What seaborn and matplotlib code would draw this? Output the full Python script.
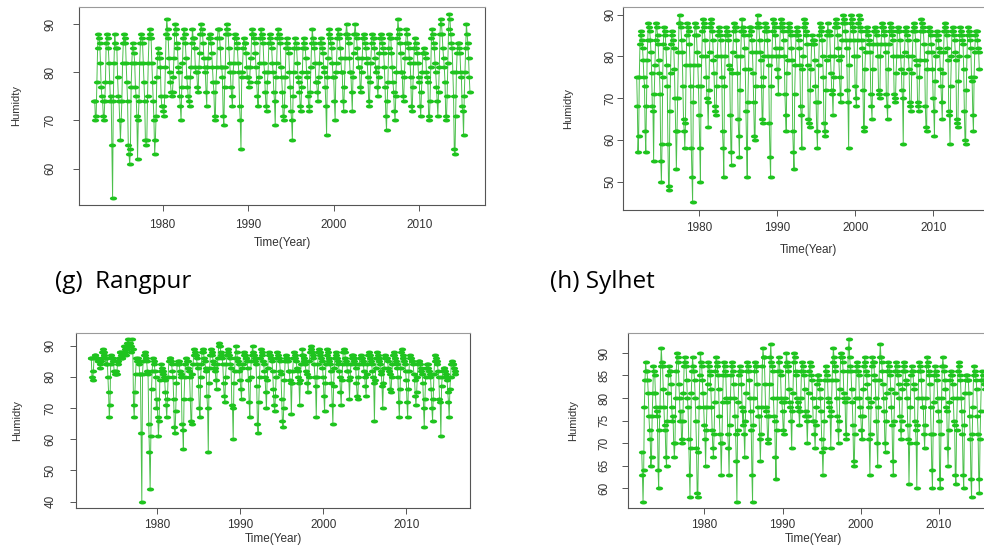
import numpy as np
import pandas as pd
import matplotlib
matplotlib.use("Agg")
import matplotlib.pyplot as plt
from matplotlib.path import Path
import seaborn as sns

years = list(range(1972, 2016))
x_ticks = [1980, 1990, 2000, 2010]

# monthly humidity, one row per year (Jan..Dec)
rangpur = [
    [74,74,70,71,78,85,88,87,86,82,77,75],[74,71,70,74,78,86,88,87,85,82,78,74],
    [75,65,54,74,82,88,86,85,85,79,75,74],[70,66,70,74,82,86,88,86,87,82,78,74],
    [65,63,61,64,77,82,86,85,84,82,77,75],[71,62,70,74,82,86,88,87,86,82,78,74],
    [66,65,66,75,82,87,89,88,87,82,78,74],[70,63,66,71,79,83,85,84,83,81,75,73],
    [73,72,71,75,81,88,91,89,87,83,80,78],[76,75,76,79,83,88,90,89,86,85,81,80],
    [75,73,70,77,82,87,89,88,86,83,79,77],[75,74,73,79,81,86,89,87,87,85,81,80],
    [80,77,76,81,84,88,90,89,88,86,83,81],[80,76,73,81,83,87,88,87,86,84,81,78],
    [76,71,70,78,81,87,89,89,87,85,81,81],[79,71,69,77,81,88,90,89,88,85,82,80],
    [77,75,73,80,82,87,88,87,86,85,82,80],[73,70,64,79,80,85,87,86,86,84,81,79],
    [79,77,78,81,83,88,89,88,87,86,84,81],[78,75,73,79,82,87,89,88,87,86,82,80],
    [76,73,72,78,80,86,88,87,86,85,82,80],[76,74,69,79,82,87,89,88,87,86,81,79],
    [76,71,70,73,79,85,87,86,85,84,80,77],[72,70,66,75,80,85,87,86,85,82,79,78],
    [76,73,72,77,80,85,87,86,85,83,80,79],[75,73,72,76,81,86,89,87,86,85,82,78],
    [78,76,74,79,82,86,87,86,85,84,81,80],[77,73,67,79,83,88,89,87,86,85,82,79],
    [79,74,70,80,82,87,89,88,87,85,83,80],[80,74,72,77,83,88,90,88,87,86,83,80],
    [80,76,72,79,84,88,90,88,87,85,83,81],[81,77,76,80,83,87,88,87,86,85,83,82],
    [79,74,73,78,82,86,88,87,87,85,83,80],[81,77,75,79,84,87,88,87,86,85,84,81],
    [77,71,68,74,78,85,88,87,87,84,81,78],[76,72,70,75,80,87,91,89,88,86,84,80],
    [80,75,74,79,83,86,89,88,86,85,83,82],[79,73,72,77,82,85,87,86,85,84,82,79],
    [78,73,71,76,80,84,85,84,84,83,80,79],[78,71,70,74,81,87,89,88,86,85,82,80],
    [77,74,71,76,81,88,91,90,88,85,83,81],[78,71,70,75,82,89,92,91,88,86,85,80],
    [75,64,63,71,80,84,86,86,85,84,80,79],[73,72,67,75,80,85,90,88,86,83,79,76],
]
sylhet = [
    [75,68,57,61,75,83,86,85,84,82,79,75],[73,62,57,68,79,84,88,87,86,84,81,76],
    [68,67,55,71,78,84,88,87,85,83,79,76],[71,55,50,59,75,83,87,86,85,82,78,73],
    [59,49,48,67,76,83,86,85,84,82,77,70],[62,53,62,70,81,88,90,88,87,84,81,73],
    [65,62,58,64,78,85,88,87,86,83,78,73],[58,51,45,69,78,85,88,87,85,81,78,73],
    [66,58,50,73,80,86,89,88,87,84,80,75],[70,69,63,72,81,87,89,88,86,84,79,76],
    [68,67,66,73,80,85,87,86,85,84,80,75],[62,58,51,73,80,85,87,86,85,84,78,77],
    [66,57,54,76,81,86,88,87,87,84,80,76],[65,61,56,72,80,86,89,87,86,85,82,77],
    [67,58,51,69,77,85,87,87,86,84,81,76],[69,61,60,73,81,87,90,88,87,84,81,79],
    [73,65,64,75,80,86,88,87,86,84,80,78],[64,56,51,73,80,86,89,88,87,85,82,80],
    [77,75,71,80,82,87,89,88,87,86,84,80],[71,66,62,76,79,86,88,87,86,85,82,79],
    [62,57,53,71,78,85,87,86,85,84,82,78],[68,66,58,77,80,87,89,88,86,85,83,78],
    [65,64,63,72,77,83,85,84,84,83,79,73],[69,62,58,69,78,85,88,87,86,84,80,75],
    [64,62,61,72,79,85,88,86,86,85,80,76],[72,71,66,75,80,87,89,88,87,85,82,79],
    [75,71,69,80,84,88,90,89,88,86,84,82],[72,69,58,78,84,88,90,89,87,86,84,80],
    [73,70,68,80,84,88,90,89,87,86,84,82],[72,63,62,77,81,86,87,86,85,84,83,81],
    [71,68,65,77,83,86,87,86,86,85,83,80],[72,71,70,80,83,87,88,87,86,85,83,81],
    [71,68,65,77,83,86,88,87,86,85,84,80],[71,70,69,76,80,86,87,86,86,84,80,77],
    [72,70,59,76,81,86,87,86,85,84,80,77],[69,68,67,76,80,86,88,87,86,84,79,78],
    [69,68,67,75,79,86,89,88,87,86,83,79],[68,63,62,77,81,86,87,86,85,83,81,77],
    [70,67,61,74,80,85,86,85,84,82,81,77],[73,69,65,76,81,86,88,87,86,85,82,79],
    [67,66,59,73,80,86,87,86,85,84,81,79],[65,64,63,74,80,85,87,86,85,84,83,77],
    [67,60,59,72,80,85,87,86,85,84,82,75],[74,66,62,75,81,85,86,86,84,82,81,77],
]
station_c = [
    [86,86,80,79,82,86,87,87,86,86,85,85],[85,84,83,85,86,88,89,88,87,86,84,84],
    [86,80,75,67,71,84,87,86,86,85,82,81],[81,82,81,85,84,86,88,88,87,86,86,88],
    [90,89,88,87,89,91,92,91,90,91,90,88],[92,89,71,67,75,81,86,85,86,85,84,81],
    [81,62,40,81,85,87,88,87,86,85,82,81],[65,56,44,61,76,82,86,85,84,82,80,70],
    [73,67,61,66,79,82,84,83,82,81,80,79],[75,71,67,73,80,85,86,86,85,84,82,80],
    [73,64,62,69,78,84,85,85,84,82,81,80],[65,63,57,73,80,84,86,85,85,83,82,80],
    [73,66,65,81,84,87,89,88,87,86,84,83],[77,70,67,80,84,88,89,88,86,85,83,82],
    [74,70,56,78,83,87,89,88,87,85,84,83],[82,79,76,84,86,90,91,90,88,87,86,84],
    [78,74,72,80,84,87,89,88,87,86,84,83],[71,70,60,78,82,86,90,88,86,85,84,82],
    [79,76,73,83,84,87,88,87,86,86,85,83],[79,72,67,80,85,87,90,88,87,86,85,84],
    [77,65,62,72,80,86,89,88,87,85,84,82],[80,75,70,79,83,87,88,87,86,86,85,82],
    [76,71,69,74,80,86,88,87,86,85,82,81],[73,66,64,70,79,85,87,86,86,85,82,82],
    [79,78,68,78,82,86,88,87,86,85,83,82],[80,78,71,79,84,87,89,87,86,85,84,82],
    [81,78,75,80,85,88,90,89,88,87,86,84],[80,77,67,80,84,88,89,88,87,86,85,83],
    [80,74,69,78,84,87,89,88,86,85,84,82],[78,71,65,77,83,86,88,87,86,85,84,82],
    [80,75,71,79,84,88,89,88,86,85,84,82],[82,79,73,80,84,86,87,87,86,85,84,83],
    [78,74,73,80,84,86,87,86,86,85,84,82],[80,77,74,81,84,87,88,87,86,85,84,82],
    [80,78,66,79,83,86,88,87,86,85,84,82],[81,77,70,78,83,86,87,86,86,85,83,82],
    [81,76,75,80,84,87,88,87,86,85,84,83],[80,72,67,76,83,88,89,87,86,85,84,82],
    [79,72,67,76,82,86,87,86,85,85,84,81],[79,74,71,75,80,84,85,85,84,83,82,81],
    [78,70,64,73,80,83,84,84,83,82,81,80],[76,70,66,73,81,85,87,86,85,84,82,80],
    [73,72,61,77,80,82,83,83,82,81,80,79],[75,72,67,76,80,84,85,84,84,83,82,81],
]
station_d = [
    [68,63,57,64,78,84,88,86,86,84,81,76],[73,71,65,67,76,81,87,86,85,81,78,76],
    [77,64,60,73,78,87,91,88,87,82,78,74],[73,67,65,75,81,85,87,86,86,83,78,75],
    [76,70,67,70,80,86,90,89,88,83,80,75],[77,71,70,75,81,87,89,88,87,84,80,78],
    [71,63,58,69,81,86,89,87,86,84,80,75],[69,59,58,68,78,85,90,88,87,84,81,78],
    [74,71,65,73,78,83,88,87,86,85,82,78],[73,69,67,72,79,86,89,88,87,85,82,76],
    [72,70,63,70,79,85,88,87,86,85,80,79],[72,69,63,74,80,85,88,87,86,83,80,76],
    [72,66,57,73,79,85,87,86,86,83,78,74],[77,72,67,75,81,86,88,87,86,84,80,77],
    [73,63,57,74,80,86,88,87,87,83,78,76],[76,71,66,72,78,87,91,89,89,83,78,77],
    [76,71,70,76,83,89,92,88,87,86,80,76],[75,67,62,73,80,86,89,88,86,85,80,79],
    [77,73,72,79,80,87,90,88,87,86,82,79],[78,75,69,77,81,88,90,89,86,85,80,78],
    [79,77,74,77,80,86,88,87,86,85,82,76],[77,75,70,76,81,86,88,87,85,84,80,75],
    [75,72,69,74,78,83,85,85,84,82,80,77],[71,68,63,69,75,84,87,86,85,84,80,79],
    [78,76,69,77,84,88,91,89,87,86,84,80],[76,73,70,75,82,89,90,89,88,86,81,80],
    [79,72,71,80,86,91,93,89,87,86,82,79],[74,66,65,72,80,86,88,87,86,85,80,78],
    [76,73,71,76,82,87,89,88,86,85,83,80],[78,71,63,72,79,87,89,88,88,85,84,80],
    [75,70,65,78,84,89,92,89,88,86,83,80],[77,70,68,75,81,86,88,87,86,85,82,78],
    [74,66,63,75,81,86,88,87,86,85,83,80],[76,73,71,75,82,86,88,87,86,84,83,80],
    [74,71,61,70,78,85,87,86,86,83,82,75],[73,70,60,74,80,86,88,87,86,84,80,78],
    [78,72,69,74,80,87,89,88,86,85,83,78],[72,64,60,72,79,85,87,86,85,84,80,77],
    [75,62,60,72,80,87,89,87,86,84,82,78],[77,69,65,73,79,84,86,85,85,83,80,75],
    [74,63,61,73,80,86,88,87,85,84,80,77],[72,63,60,74,81,84,85,85,84,84,81,76],
    [71,62,58,72,78,85,87,86,85,84,82,76],[72,62,59,71,77,84,86,85,84,83,82,77],
]

y_ticks_a = [60, 70, 80, 90]
y_ticks_b = [50, 60, 70, 80, 90]
y_ticks_c = [40, 50, 60, 70, 80, 90]
y_ticks_d = [60, 65, 70, 75, 80, 85, 90]

captions = ["(g)  Rangpur", "(h) Sylhet"]
x_label = "Time(Year)"
y_label = "Humidty"

sns.set_style("white")
plt.rcParams["font.family"] = ["Liberation Sans", "DejaVu Sans"]

W, H = 984, 548
fig = plt.figure(figsize=(W / 100, H / 100), dpi=100)

def to_df(rows):
    t, v = [], []
    for yr, row in zip(years, rows):
        for m, val in enumerate(row):
            t.append(yr + m / 12.0)
            v.append(val)
    return pd.DataFrame({"time": t, "hum": v})

theta = np.linspace(0, 2 * np.pi, 40)
ell = Path(np.column_stack([np.cos(theta), 0.55 * np.sin(theta)]), closed=True)

TXT = "#333333"
panels = [
    # data, yticks, L, R, T, B, ytick pad px, xtick pad px, ylabel x, xlabel y
    (rangpur, y_ticks_a, 79, 485, 7, 205, 23, 8, 16, 243),
    (sylhet, y_ticks_b, 623, 993, 7, 210, 7, 6, 568, 250),
    (station_c, y_ticks_c, 76, 470, 333, 508, 20, 5, 17, 539),
    (station_d, y_ticks_d, 628, 999, 333, 508, 18, 5, 573, 539),
]

for rows, yt, L, R, T, B, ypad, xpad, ylx, xly in panels:
    ax = fig.add_axes([L / W, 1 - B / H, (R - L) / W, (B - T) / H])
    df = to_df(rows)
    sns.lineplot(data=df, x="time", y="hum", ax=ax, color="#4cc04c", lw=0.7,
                 marker=ell, markersize=5.2, markerfacecolor="#1fc41f",
                 markeredgewidth=0, errorbar=None, sort=False)
    ax.margins(x=0.04, y=0.04)
    ax.set_xticks(x_ticks)
    ax.set_yticks(yt)
    ax.set_xlabel("")
    ax.set_ylabel("")
    for s in ax.spines.values():
        s.set_visible(True)
        s.set_color("#555555")
        s.set_linewidth(0.8)
    ax.spines["top"].set_color("#9a9a9a")
    ax.tick_params(axis="both", direction="out", length=4, width=0.7,
                   color="#555555", labelcolor=TXT, labelsize=8.5,
                   bottom=True, left=True)
    ax.tick_params(axis="y", pad=ypad * 0.72)
    ax.tick_params(axis="x", pad=xpad * 0.72)
    for lab in ax.get_yticklabels():
        lab.set_rotation(90)
        lab.set_va("center")
        lab.set_ha("center")
    ax.grid(False)
    fig.text(ylx / W, 1 - ((T + B) / 2) / H, y_label, rotation=90,
             ha="center", va="center", fontsize=8, color=TXT)
    fig.text(((L + R) / 2) / W, 1 - xly / H, x_label, ha="center",
             va="center", fontsize=8.5, color=TXT)

fig.text(55 / W, 1 - 288 / H, captions[0], fontsize=17.5, family=["Open Sans", "DejaVu Sans"],
         ha="left", va="baseline", color="black")
fig.text(550 / W, 1 - 288 / H, captions[1], fontsize=17.5, family=["Open Sans", "DejaVu Sans"],
         ha="left", va="baseline", color="black")

fig.savefig("out.png", dpi=100)
